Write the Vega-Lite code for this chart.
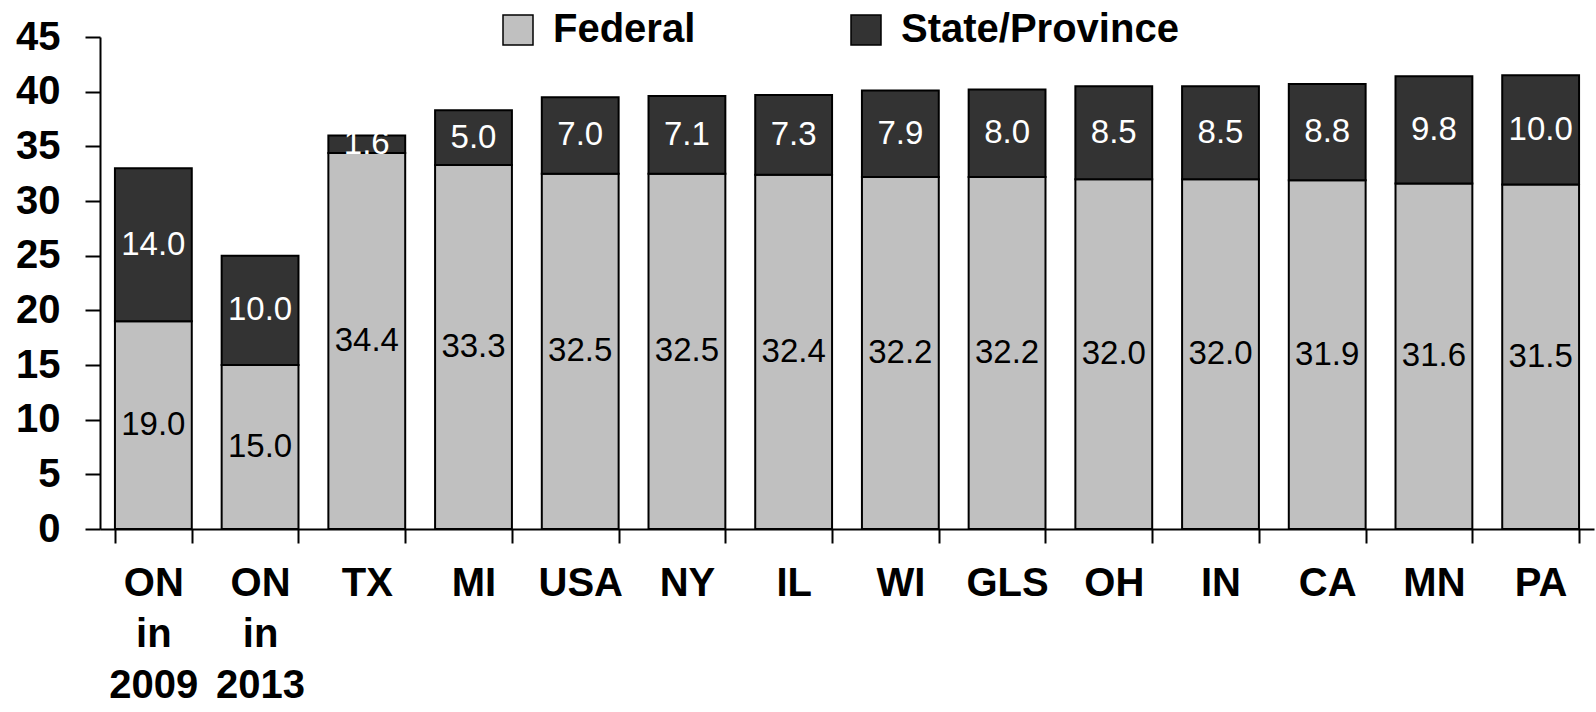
{
  "$schema": "https://vega.github.io/schema/vega-lite/v6.json",
  "width": 1494,
  "height": 492,
  "autosize": "none",
  "padding": {"left": 100, "top": 37, "right": 2, "bottom": 183},
  "config": {"view": {"stroke": null}, "font": "Liberation Sans"},
  "data": {
    "values": [
      {"region": "ON in 2009", "type": "Federal", "value": 19.0},
      {"region": "ON in 2009", "type": "State/Province", "value": 14.0},
      {"region": "ON in 2013", "type": "Federal", "value": 15.0},
      {"region": "ON in 2013", "type": "State/Province", "value": 10.0},
      {"region": "TX", "type": "Federal", "value": 34.4},
      {"region": "TX", "type": "State/Province", "value": 1.6},
      {"region": "MI", "type": "Federal", "value": 33.3},
      {"region": "MI", "type": "State/Province", "value": 5.0},
      {"region": "USA", "type": "Federal", "value": 32.5},
      {"region": "USA", "type": "State/Province", "value": 7.0},
      {"region": "NY", "type": "Federal", "value": 32.5},
      {"region": "NY", "type": "State/Province", "value": 7.1},
      {"region": "IL", "type": "Federal", "value": 32.4},
      {"region": "IL", "type": "State/Province", "value": 7.3},
      {"region": "WI", "type": "Federal", "value": 32.2},
      {"region": "WI", "type": "State/Province", "value": 7.9},
      {"region": "GLS", "type": "Federal", "value": 32.2},
      {"region": "GLS", "type": "State/Province", "value": 8.0},
      {"region": "OH", "type": "Federal", "value": 32.0},
      {"region": "OH", "type": "State/Province", "value": 8.5},
      {"region": "IN", "type": "Federal", "value": 32.0},
      {"region": "IN", "type": "State/Province", "value": 8.5},
      {"region": "CA", "type": "Federal", "value": 31.9},
      {"region": "CA", "type": "State/Province", "value": 8.8},
      {"region": "MN", "type": "Federal", "value": 31.6},
      {"region": "MN", "type": "State/Province", "value": 9.8},
      {"region": "PA", "type": "Federal", "value": 31.5},
      {"region": "PA", "type": "State/Province", "value": 10.0}
    ]
  },
  "transform": [
    {"stack": "value", "groupby": ["region"], "sort": [{"field": "type", "order": "ascending"}], "as": ["y0", "y1"]},
    {"calculate": "(datum.y0 + datum.y1) / 2", "as": "mid"}
  ],
  "encoding": {
    "x": {
      "field": "region",
      "type": "nominal",
      "sort": null,
      "scale": {"paddingInner": 0.28, "paddingOuter": 0.14},
      "axis": {
        "title": null,
        "labelAngle": 0,
        "labelExpr": "split(datum.label, ' ')",
        "labelFontSize": 40,
        "labelFontWeight": "bold",
        "labelColor": "black",
        "labelLineHeight": 51,
        "labelPadding": 20,
        "labelBaseline": "top",
        "tickBand": "extent",
        "tickSize": 14,
        "tickWidth": 2,
        "tickColor": "black",
        "domainColor": "black",
        "domainWidth": 2
      }
    }
  },
  "layer": [
    {
      "mark": {"type": "bar", "stroke": "black", "strokeWidth": 2},
      "encoding": {
        "y": {
          "field": "y0",
          "type": "quantitative",
          "scale": {"domain": [0, 45], "nice": false},
          "axis": {
            "title": null,
            "grid": false,
            "values": [0, 5, 10, 15, 20, 25, 30, 35, 40, 45],
            "tickSize": 15,
            "tickWidth": 2,
            "tickColor": "black",
            "domainColor": "black",
            "domainWidth": 2,
            "labelFontSize": 40,
            "labelFontWeight": "bold",
            "labelColor": "black",
            "labelPadding": 25
          }
        },
        "y2": {"field": "y1"},
        "color": {
          "field": "type",
          "type": "nominal",
          "scale": {"domain": ["Federal", "State/Province"], "range": ["#c0c0c0", "#333333"]},
          "legend": {
            "title": null,
            "orient": "none",
            "legendX": 398,
            "legendY": -27,
            "direction": "horizontal",
            "symbolType": "square",
            "symbolSize": 900,
            "symbolStrokeColor": "black",
            "symbolStrokeWidth": 1.5,
            "labelFontSize": 40,
            "labelFontWeight": "bold",
            "labelColor": "black",
            "labelLimit": 0,
            "labelOffset": 15,
            "columnPadding": 150
          }
        }
      }
    },
    {
      "mark": {"type": "text", "fontSize": 33, "baseline": "middle", "align": "center"},
      "encoding": {
        "y": {"field": "mid", "type": "quantitative"},
        "text": {"field": "value", "type": "quantitative", "format": ".1f"},
        "fill": {"condition": {"test": "datum.type === 'State/Province'", "value": "white"}, "value": "black"}
      }
    }
  ]
}
